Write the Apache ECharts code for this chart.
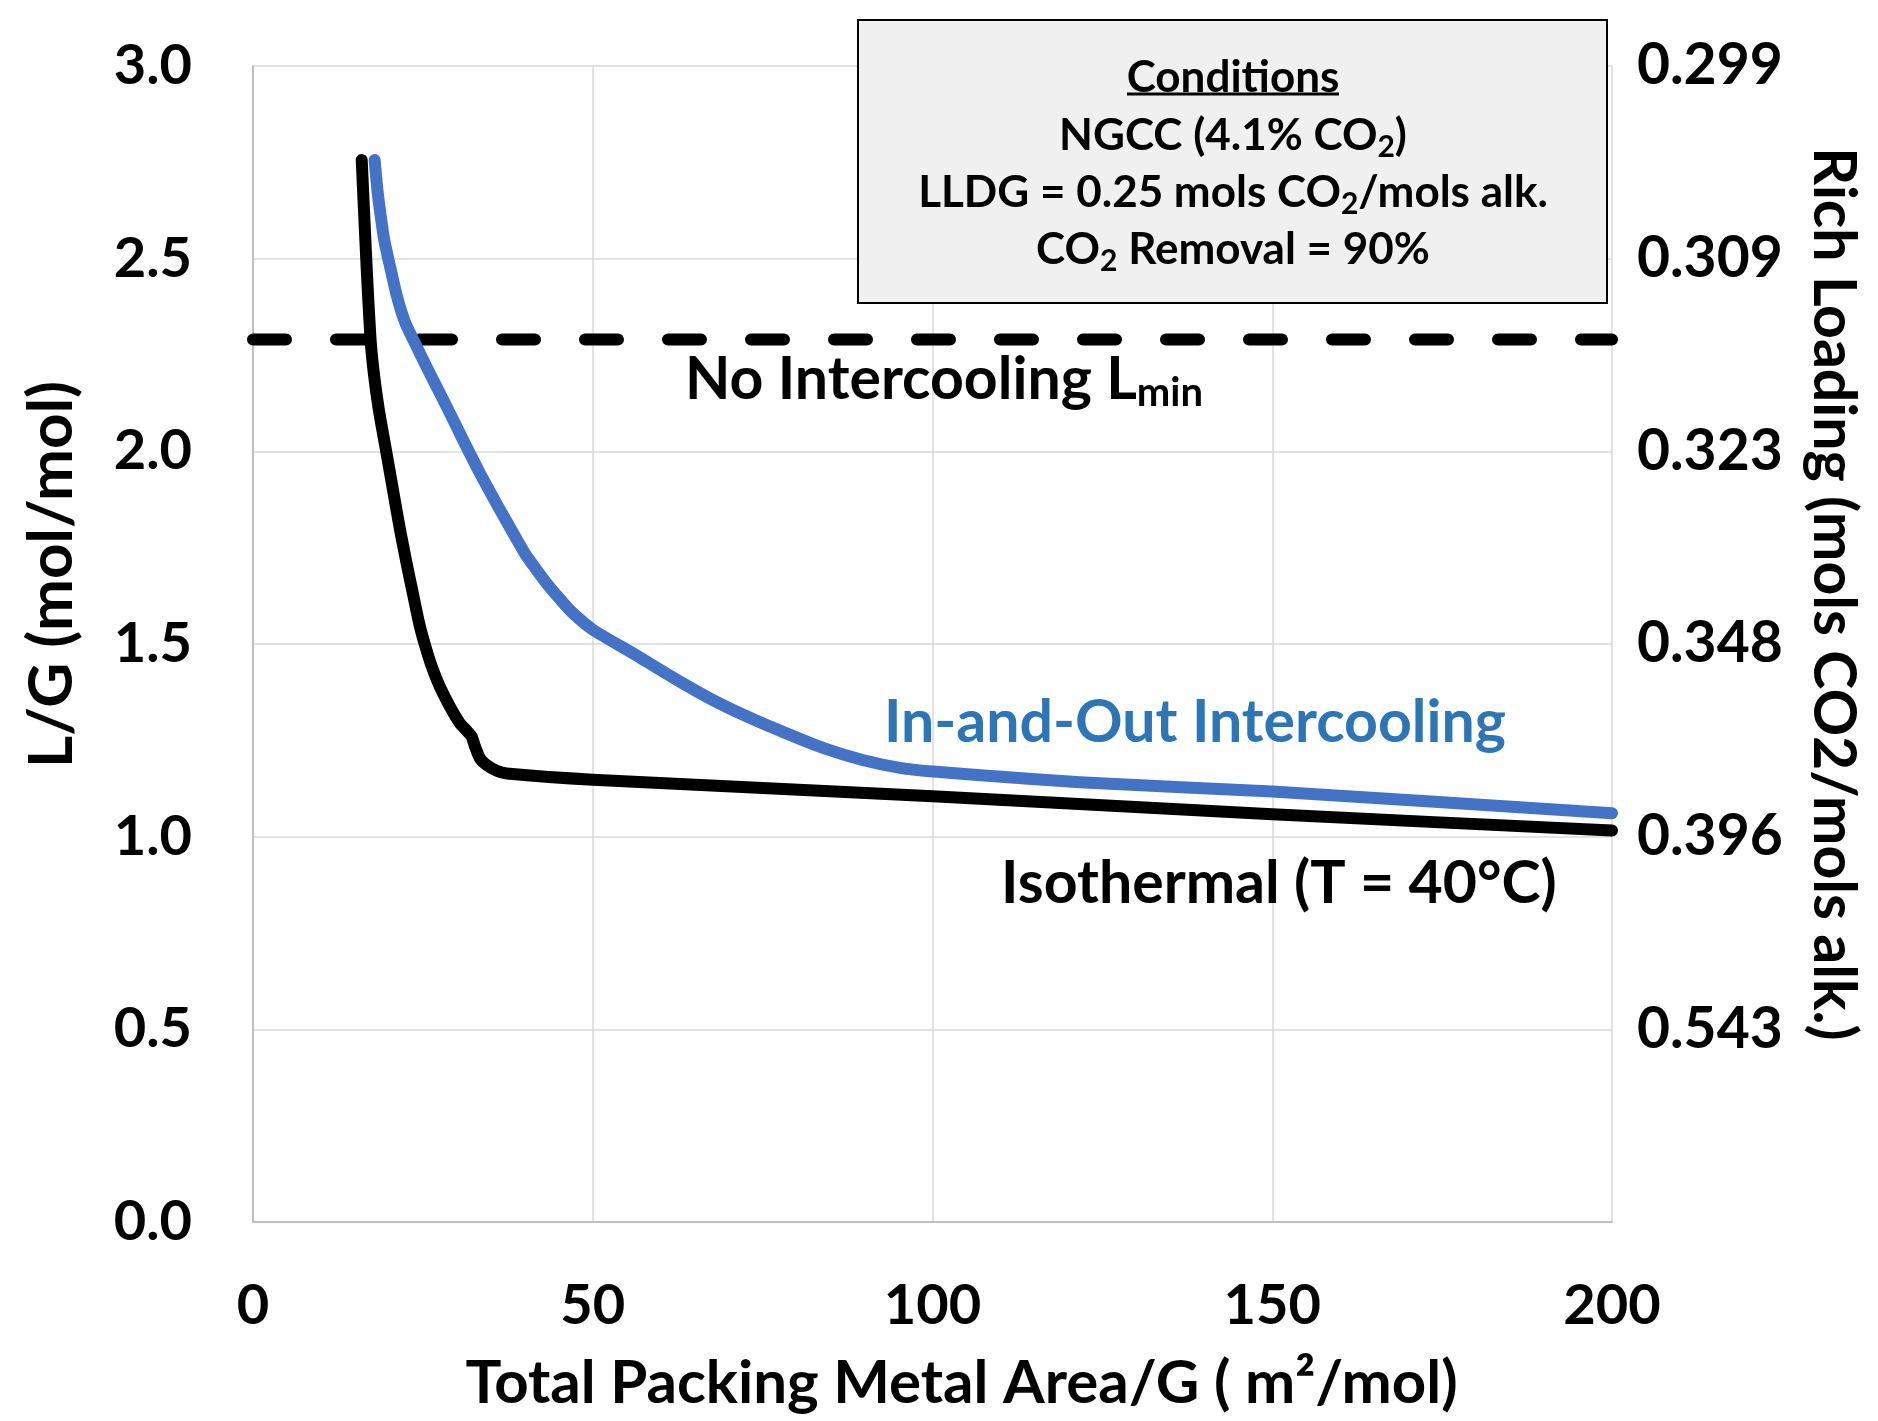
<!DOCTYPE html>
<html>
<head>
<meta charset="utf-8">
<script src="https://cdn.jsdelivr.net/npm/echarts@6/dist/echarts.min.js"></script>
<style>
  html, body { margin: 0; padding: 0; background: #ffffff; }
  #chart { width: 1878px; height: 1421px; }
</style>
</head>
<body>
<div id="chart"></div>
<script>
// ---- Data ----
const isothermalX = [16.0, 16.4, 16.8, 17.3, 17.8, 18.5, 19.5, 20.5, 21.6, 22.6, 23.6, 24.5, 25.4, 26.4, 27.5, 29.0, 30.46, 31.45, 32.18, 32.67, 33.41, 34.39, 35.86, 37.34, 50, 100, 150, 200];
const isothermalY = [2.756, 2.60, 2.45, 2.29, 2.20, 2.11, 2.01, 1.91, 1.80, 1.71, 1.625, 1.55, 1.492, 1.437, 1.389, 1.337, 1.294, 1.275, 1.260, 1.234, 1.203, 1.186, 1.171, 1.164, 1.148, 1.105, 1.058, 1.016];

const inOutX = [17.9, 18.3, 18.8, 19.3, 19.9, 20.4, 21.0, 21.6, 22.5, 23.6, 26.0, 28.5, 30.9, 33.4, 36.1, 38.8, 40.2, 42.0, 43.5, 45.2, 46.9, 50.1, 55.9, 61.6, 67.2, 72.8, 78.5, 84.1, 89.7, 95.4, 100.1, 106.6, 121.7, 150, 200];
const inOutY = [2.756, 2.68, 2.61, 2.55, 2.50, 2.462, 2.415, 2.376, 2.33, 2.289, 2.203, 2.116, 2.030, 1.943, 1.856, 1.772, 1.730, 1.686, 1.651, 1.616, 1.583, 1.536, 1.476, 1.415, 1.359, 1.311, 1.268, 1.229, 1.199, 1.178, 1.169, 1.160, 1.141, 1.117, 1.061];

const lminValue = 2.29;
const lminX = [0, 200];

const leftTickLabels = ['0.0', '0.5', '1.0', '1.5', '2.0', '2.5', '3.0'];
const rightTickLabels = ['', '0.543', '0.396', '0.348', '0.323', '0.309', '0.299'];
const xTickLabels = ['0', '50', '100', '150', '200'];

const conditionLines = [
  'Conditions',
  'NGCC (4.1% CO{s|2})',
  'LLDG = 0.25 mols CO{s|2}/mols alk.',
  'CO{s|2} Removal = 90%'
];

// ---- Build chart ----
const FONT = 'Lato, "Noto Sans", "Liberation Sans", sans-serif';
const pair = (xs, ys) => xs.map((x, i) => [x, ys[i]]);

const chart = echarts.init(document.getElementById('chart'), null, { renderer: 'canvas' });

const gridLeft = 253, gridRight = 266, gridTop = 66, gridBottom = 199;

function condText(line, y) {
  return {
    type: 'text',
    z: 101,
    x: 1233,
    y: y,
    style: {
      text: '{m|' + line.replace(/\{s\|2\}/g, '}{s|2}{m|') + '}',
      x: 0, y: 0,
      textAlign: 'center',
      textVerticalAlign: 'middle',
      rich: {
        m: { fontFamily: FONT, fontWeight: 'bold', fontSize: 44, lineHeight: 52, fill: '#000' },
        s: { fontFamily: FONT, fontWeight: 'bold', fontSize: 30, lineHeight: 30, padding: [22, 0, 0, 0], fill: '#000' }
      }
    }
  };
}

const option = {
  backgroundColor: '#ffffff',
  animation: false,
  grid: { left: gridLeft, right: gridRight, top: gridTop, bottom: gridBottom, containLabel: false },
  xAxis: {
    type: 'value',
    min: 0, max: 200, interval: 50,
    name: 'Total Packing Metal Area/G ( m\u00B2/mol)',
    nameLocation: 'middle',
    nameGap: 132,
    nameTextStyle: { fontFamily: FONT, fontWeight: 'bold', fontSize: 60, color: '#000', padding: [0, 0, 0, 58] },
    axisLine: { show: true, lineStyle: { color: '#bfbfbf', width: 2 } },
    axisTick: { show: false },
    axisLabel: {
      margin: 56, fontFamily: FONT, fontWeight: 'bold', fontSize: 56, color: '#000',
      formatter: v => xTickLabels[Math.round(v / 50)]
    },
    splitLine: { show: true, lineStyle: { color: '#d9d9d9', width: 1.5 } }
  },
  yAxis: [
    {
      type: 'value',
      min: 0, max: 3, interval: 0.5,
      name: 'L/G (mol/mol)',
      nameLocation: 'middle',
      nameRotate: 90,
      nameGap: 170,
      nameTextStyle: { fontFamily: FONT, fontWeight: 'bold', fontSize: 62, color: '#000', padding: [0, 0, 0, 139] },
      axisLine: { show: true, lineStyle: { color: '#bfbfbf', width: 2 } },
      axisTick: { show: false },
      axisLabel: {
        margin: 61, fontFamily: FONT, fontWeight: 'bold', fontSize: 56, color: '#000',
        formatter: v => leftTickLabels[Math.round(v / 0.5)]
      },
      splitLine: { show: true, lineStyle: { color: '#d9d9d9', width: 1.5 } }
    },
    {
      type: 'value',
      position: 'right',
      min: 0, max: 3, interval: 0.5,
      name: 'Rich Loading (mols CO2/mols alk.)',
      nameLocation: 'middle',
      nameRotate: -90,
      nameGap: 192,
      nameTextStyle: { fontFamily: FONT, fontWeight: 'bold', fontSize: 59, color: '#000', padding: [0, 100, 0, 0] },
      axisLine: { show: false },
      axisTick: { show: false },
      axisLabel: {
        margin: 25, fontFamily: FONT, fontWeight: 'bold', fontSize: 57, color: '#000',
        formatter: v => rightTickLabels[Math.round(v / 0.5)]
      },
      splitLine: { show: false }
    }
  ],
  series: [
    {
      name: 'No Intercooling Lmin',
      type: 'line',
      data: lminX.map(x => [x, lminValue]),
      showSymbol: false,
      lineStyle: { color: '#000', width: 12, type: [33, 50], cap: 'round' },
      z: 3
    },
    {
      name: 'Isothermal (T = 40°C)',
      type: 'line',
      data: pair(isothermalX, isothermalY),
      showSymbol: false,
      smooth: 0.2,
      lineStyle: { color: '#000', width: 12, cap: 'round', join: 'round' },
      z: 4
    },
    {
      name: 'In-and-Out Intercooling',
      type: 'line',
      data: pair(inOutX, inOutY),
      showSymbol: false,
      smooth: 0.2,
      lineStyle: { color: '#4472C4', width: 12, cap: 'round', join: 'round' },
      z: 5
    }
  ],
  graphic: [
    {
      type: 'rect',
      z: 100,
      shape: { x: 858, y: 20, width: 749, height: 283 },
      style: { fill: '#f0f0f0', stroke: '#000', lineWidth: 2 }
    },
    condText(conditionLines[0], 78),
    { type: 'line', z: 101, shape: { x1: 1127, y1: 94, x2: 1339, y2: 94 }, style: { stroke: '#000', lineWidth: 3 } },
    condText(conditionLines[1], 136),
    condText(conditionLines[2], 193),
    condText(conditionLines[3], 250),
    {
      type: 'text',
      z: 50,
      x: 685, y: 380,
      style: {
        text: '{m|No Intercooling L}{s|min}',
        x: 0, y: 0,
        textVerticalAlign: 'middle',
        rich: {
          m: { fontFamily: FONT, fontWeight: 'bold', fontSize: 59, lineHeight: 68, fill: '#000' },
          s: { fontFamily: FONT, fontWeight: 'bold', fontSize: 40, lineHeight: 42, padding: [26, 0, 0, 0], fill: '#000' }
        }
      }
    },
    {
      type: 'text',
      z: 50,
      x: 884, y: 723,
      style: {
        text: 'In-and-Out Intercooling',
        x: 0, y: 0,
        textVerticalAlign: 'middle',
        fontFamily: FONT, fontWeight: 'bold', fontSize: 59, fill: '#2E75B6'
      }
    },
    {
      type: 'text',
      z: 50,
      x: 1001, y: 884,
      style: {
        text: 'Isothermal (T = 40\u00B0C)',
        x: 0, y: 0,
        textVerticalAlign: 'middle',
        fontFamily: FONT, fontWeight: 'bold', fontSize: 59, fill: '#000'
      }
    }
  ]
};

chart.setOption(option);
</script>
</body>
</html>
